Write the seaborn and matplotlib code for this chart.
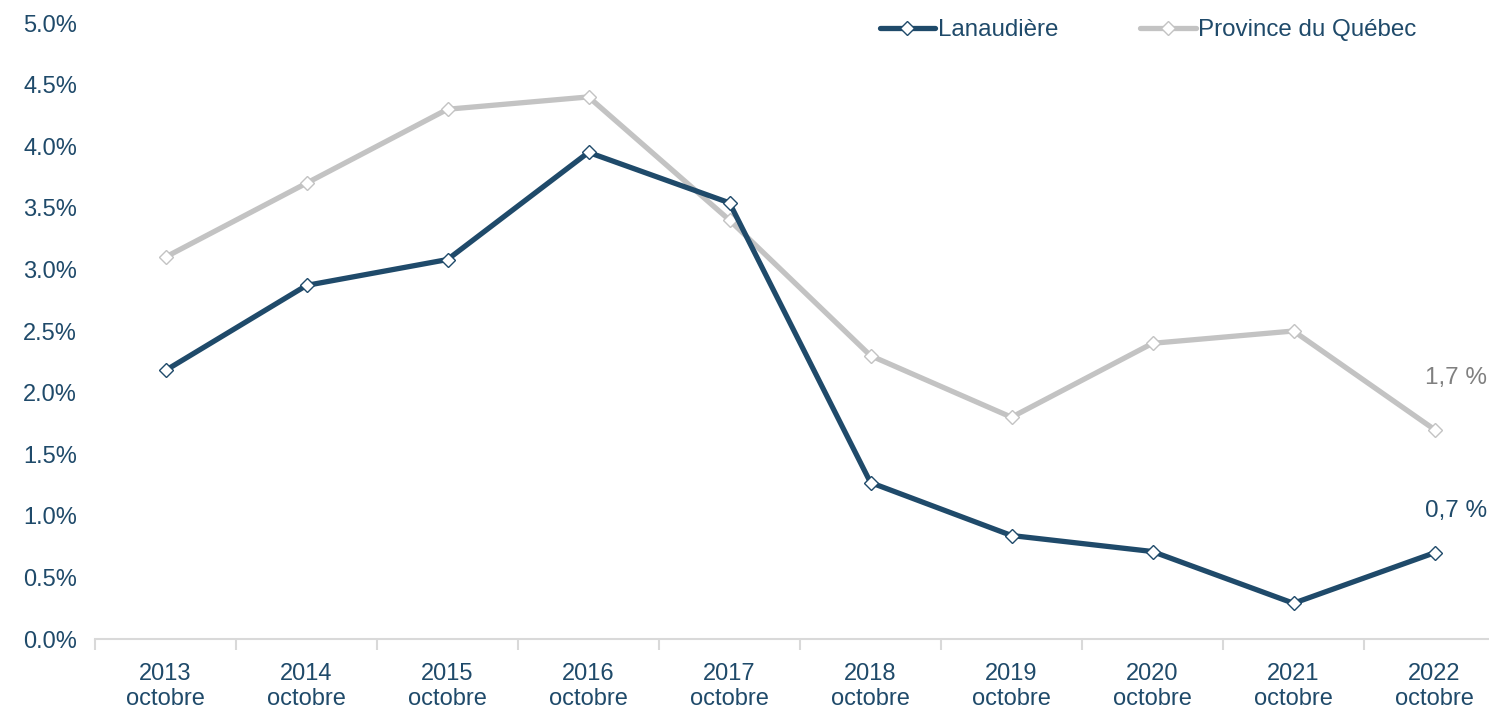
import matplotlib
matplotlib.use("Agg")
import matplotlib.pyplot as plt
import seaborn as sns
import pandas as pd
from matplotlib.ticker import FixedLocator, FuncFormatter

years = ["2013", "2014", "2015", "2016", "2017", "2018", "2019", "2020", "2021", "2022"]
month = "octobre"
lanaudiere = [2.18, 2.87, 3.08, 3.95, 3.54, 1.27, 0.84, 0.71, 0.29, 0.70]
quebec = [3.1, 3.7, 4.3, 4.4, 3.4, 2.3, 1.8, 2.4, 2.5, 1.7]
series_names = ["Lanaudière", "Province du Québec"]
end_labels = ["0,7 %", "1,7 %"]
yticks = [0.0, 0.5, 1.0, 1.5, 2.0, 2.5, 3.0, 3.5, 4.0, 4.5, 5.0]

NAVY = "#1F4A6A"
GREY = "#C3C3C3"
TEXT = "#1F4A6A"
GREY_TXT = "#808080"

sns.set_theme(style="white")
plt.rcParams["font.family"] = ["Liberation Sans", "DejaVu Sans"]

fig = plt.figure(figsize=(14.89, 7.11), dpi=100)
ax = fig.add_axes([95 / 1489, (711 - 639) / 711, 1410 / 1489, (639 - 23) / 711])

idx = list(range(len(years)))
df_l = pd.DataFrame({"x": idx, "y": lanaudiere})
df_q = pd.DataFrame({"x": idx, "y": quebec})

sns.lineplot(data=df_q, x="x", y="y", ax=ax, color=GREY, linewidth=3.8,
             marker="D", markersize=7, markerfacecolor="white",
             markeredgecolor=GREY, markeredgewidth=1.0, label=series_names[1])
sns.lineplot(data=df_l, x="x", y="y", ax=ax, color=NAVY, linewidth=3.8,
             marker="D", markersize=7, markerfacecolor="white",
             markeredgecolor=NAVY, markeredgewidth=1.0, label=series_names[0])

ax.set_xlim(-0.5, len(years) - 0.5)
ax.set_ylim(0, 5.0)
ax.set_xlabel("")
ax.set_ylabel("")

ax.set_xticks(idx)
ax.set_xticklabels([f"{y}\n{month}" for y in years], fontsize=17, color=TEXT, linespacing=1.22)
ax.xaxis.set_minor_locator(FixedLocator([i - 0.5 for i in range(len(years) + 1)]))
ax.tick_params(axis="x", which="major", length=0, pad=17)
ax.tick_params(axis="x", which="minor", length=8, width=1.5, color="#D9D9D9", bottom=True)

ax.set_yticks(yticks)
ax.yaxis.set_major_formatter(FuncFormatter(lambda v, p: f"{v:.1f}%"))
ax.tick_params(axis="y", length=0, pad=13, labelsize=17, labelcolor=TEXT)

for s in ["top", "right", "left"]:
    ax.spines[s].set_visible(False)
ax.spines["bottom"].set_color("#D9D9D9")
ax.spines["bottom"].set_linewidth(1.5)
ax.grid(False)

ax.text(9 + 0.15, lanaudiere[-1] + 0.34, end_labels[0], color=NAVY, fontsize=17.5, ha="center", va="center")
ax.text(9 + 0.15, quebec[-1] + 0.42, end_labels[1], color=GREY_TXT, fontsize=17.5, ha="center", va="center")

handles, labels = ax.get_legend_handles_labels()
order = [labels.index(n) for n in series_names]
leg = ax.legend([handles[i] for i in order], [labels[i] for i in order], ncol=2,
                frameon=False, fontsize=17.4, handlelength=2.3, handletextpad=0.1,
                columnspacing=3.4, loc="center", bbox_to_anchor=(1148 / 1489, 1 - 30 / 711),
                bbox_transform=fig.transFigure)
for t in leg.get_texts():
    t.set_color(TEXT)

fig.savefig("out.png", dpi=100)
